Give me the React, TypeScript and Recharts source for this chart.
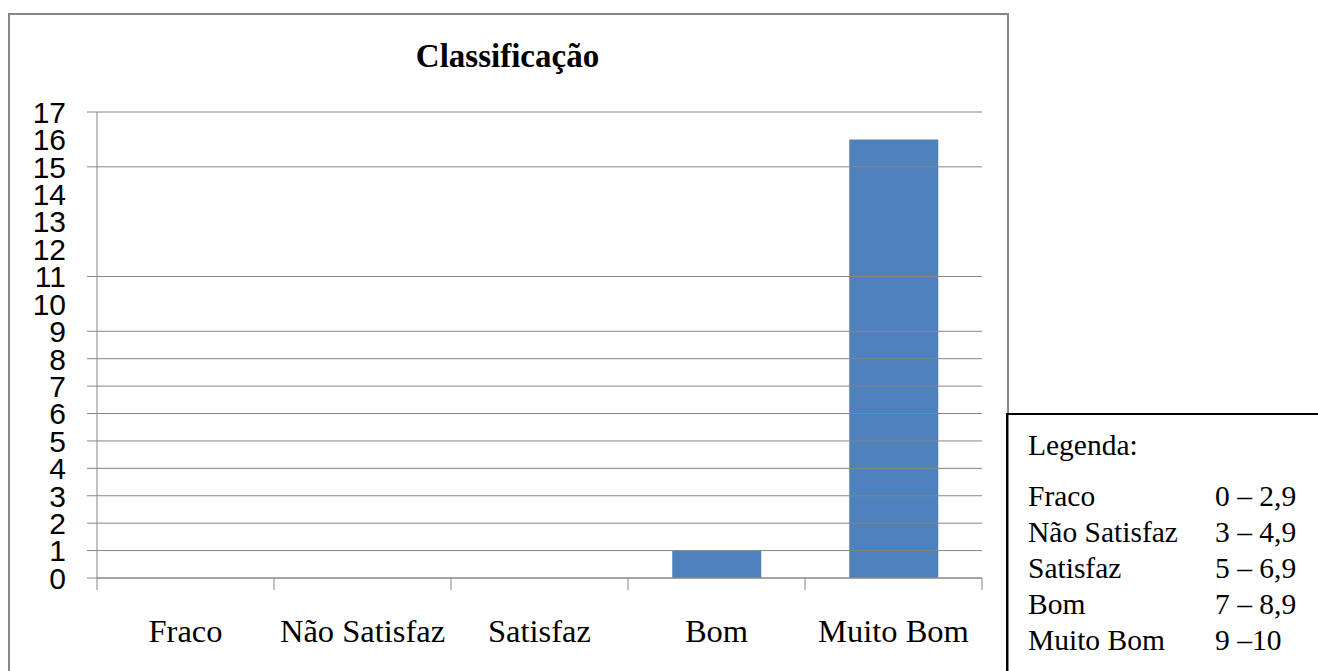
import { Bar, BarChart, ReferenceLine, XAxis, YAxis } from 'recharts';

const categories = ['Fraco', 'Não Satisfaz', 'Satisfaz', 'Bom', 'Muito Bom'];
const counts = [0, 0, 0, 1, 16];
const yTicks = [0, 1, 2, 3, 4, 5, 6, 7, 8, 9, 10, 11, 12, 13, 14, 15, 16, 17];
const gridValues = [0, 1, 2, 3, 4, 5, 6, 7, 8, 9, 11, 15, 17];
const legendNames = ['Fraco', 'Não Satisfaz', 'Satisfaz', 'Bom', 'Muito Bom'];
const legendRanges = ['0 – 2,9', '3 – 4,9', '5 – 6,9', '7 – 8,9', '9 –10'];

const BAR_COLOR = '#4F81BD';
const LINE_COLOR = '#868686';
const SERIF = "'Liberation Serif', 'Times New Roman', 'DejaVu Serif', serif";
const SANS = "'Liberation Sans', 'DejaVu Sans', sans-serif";

const X_TICK = 12;
const X_MARGIN = 29;
const Y_TICK = 10;
const Y_MARGIN = 21;

const XTick = (props: any) => {
  const { x, y, payload, index, width } = props;
  const half = payload?.offset ?? width / categories.length / 2;
  const axisY = y - X_MARGIN - X_TICK;
  const isLast = index === categories.length - 1;
  return (
    <g>
      <line x1={x - half} x2={x - half} y1={axisY} y2={axisY + X_TICK} stroke={LINE_COLOR} />
      {isLast && <line x1={x + half} x2={x + half} y1={axisY} y2={axisY + X_TICK} stroke={LINE_COLOR} />}
      <text
        x={x}
        y={y}
        dy="0.71em"
        textAnchor="middle"
        fill="#000"
        style={{ fontFamily: SERIF, fontSize: 32.5 }}
      >
        {payload.value}
      </text>
    </g>
  );
};

const YTick = (props: any) => {
  const { x, y, payload } = props;
  const hasLine = gridValues.includes(payload.value);
  return (
    <g>
      {hasLine && (
        <line x1={x + Y_MARGIN} x2={x + Y_MARGIN + Y_TICK} y1={y} y2={y} stroke={LINE_COLOR} />
      )}
      <text x={x} y={y} dy="0.36em" textAnchor="end" fill="#000" style={{ fontFamily: SANS, fontSize: 30 }}>
        {payload.value}
      </text>
    </g>
  );
};

export default function App() {
  const data = categories.map((name, i) => ({ name, value: counts[i] }));

  return (
    <div style={{ position: 'absolute', left: 0, top: 0, width: 1318, height: 671, overflow: 'hidden', background: '#fff' }}>
      <div
        style={{
          position: 'absolute',
          left: 8,
          top: 13,
          width: 997,
          height: 700,
          border: `2px solid ${LINE_COLOR}`,
        }}
      />
      <div
        style={{
          position: 'absolute',
          left: 8,
          width: 999,
          top: 37,
          textAlign: 'center',
          fontFamily: SERIF,
          fontWeight: 700,
          fontSize: 33,
          lineHeight: '38px',
        }}
      >
        Classificação
      </div>
      <div style={{ position: 'absolute', left: 0, top: 0 }}>
        <BarChart
          width={1000}
          height={671}
          data={data}
          margin={{ top: 112, right: 18, bottom: 0, left: 0 }}
          barCategoryGap="25%"
        >
          {gridValues.map((v) => (
            <ReferenceLine key={v} y={v} stroke={LINE_COLOR} strokeWidth={1} ifOverflow="visible" />
          ))}
          <XAxis
            dataKey="name"
            height={93}
            tickLine={false}
            tickSize={X_TICK}
            tickMargin={X_MARGIN}
            axisLine={{ stroke: LINE_COLOR }}
            tick={<XTick />}
            interval={0}
          />
          <YAxis
            width={97}
            domain={[0, 17]}
            ticks={yTicks}
            interval={0}
            tickLine={false}
            tickSize={Y_TICK}
            tickMargin={Y_MARGIN}
            axisLine={{ stroke: LINE_COLOR }}
            tick={<YTick />}
          />
          <Bar dataKey="value" fill={BAR_COLOR} isAnimationActive={false} />
        </BarChart>
      </div>
      <div
        style={{
          position: 'absolute',
          left: 1006,
          top: 413,
          width: 400,
          height: 400,
          borderLeft: '2px solid #000',
          borderTop: '2px solid #000',
        }}
      />
      <div
        style={{
          position: 'absolute',
          left: 1028,
          top: 427,
          fontFamily: SERIF,
          fontSize: 29.5,
          lineHeight: '36px',
        }}
      >
        Legenda:
      </div>
      {legendNames.map((name, i) => (
        <div
          key={name}
          style={{
            position: 'absolute',
            left: 1028,
            top: 478 + i * 36,
            width: 290,
            fontFamily: SERIF,
            fontSize: 29.5,
            lineHeight: '36px',
          }}
        >
          <span>{name}</span>
          <span style={{ position: 'absolute', left: 187 }}>{legendRanges[i]}</span>
        </div>
      ))}
    </div>
  );
}
